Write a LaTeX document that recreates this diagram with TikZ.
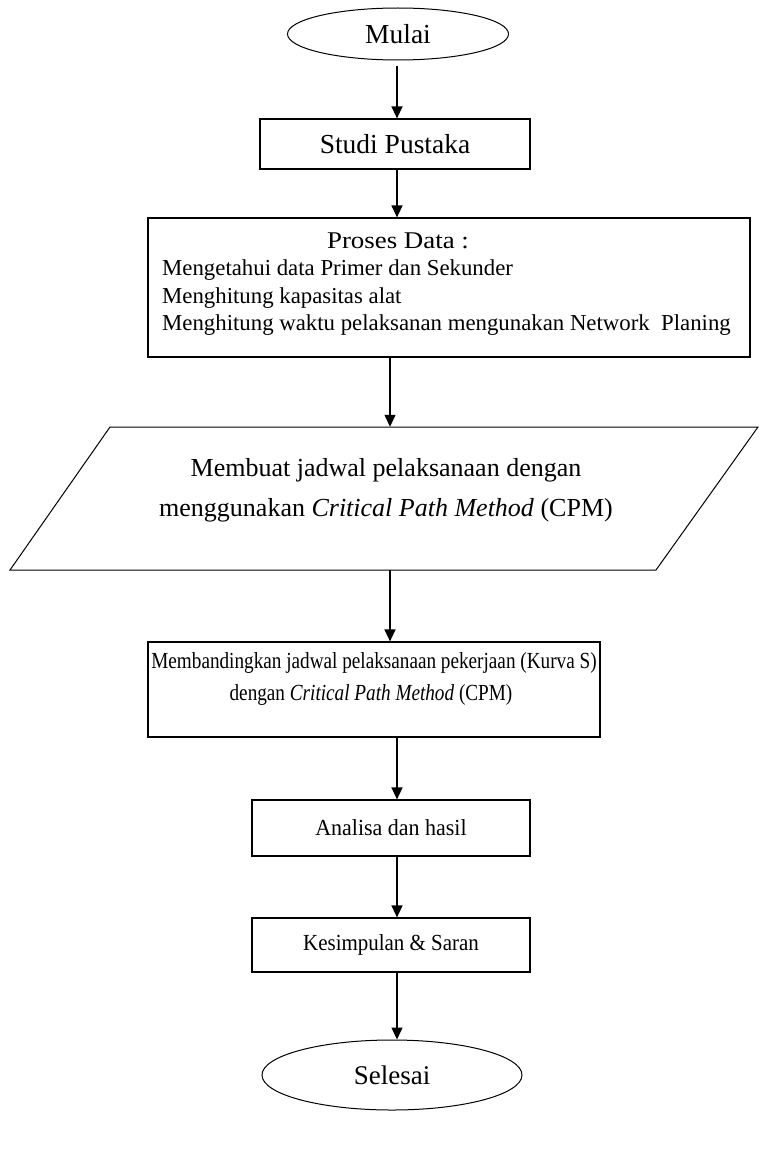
\documentclass[tikz,border=0pt]{standalone}
\usepackage{graphicx}
\usepackage{fontspec}
\setmainfont{Liberation Serif}
\usetikzlibrary{arrows.meta,shapes.geometric}
\newcommand{\fs}[1]{\fontsize{#1}{#1}\selectfont}
\newcommand{\sx}[2]{\scalebox{#1}[1]{#2}}
\begin{document}
\begin{tikzpicture}[x=1pt,y=-1pt,
  every node/.style={font=\fs{23}},
  box/.style={draw,line width=1.2pt,rectangle,inner sep=0pt},
  term/.style={draw,line width=1pt,ellipse,inner sep=0pt},
  hole/.style={draw=none,rectangle,inner sep=0pt},
  flow/.style={-{Triangle[width=11pt,length=12pt]},line width=1.3pt}]
\useasboundingbox (0,0) rectangle (763,1169);
\coordinate (xa) at (397,0);
\coordinate (xb) at (390,0);
% terminals and boxes
\node[term,minimum width=221,minimum height=52,font=\fs{27.5}] (mulai) at (398,34) {Mulai};
\node[box,minimum width=270,minimum height=50,font=\fs{27.5}] (studi) at (395,144) {Studi Pustaka};
\node[box,minimum width=602,minimum height=139] (proses) at (449,287.5) {};
\node[font=\fs{24}] (prosesT) at (398,241) {\sx{1.12}{Proses Data :}};
\node[anchor=west,inner sep=0pt,font=\fs{22.8}] (p1) at (162,270) {Mengetahui data Primer dan Sekunder};
\node[anchor=west,inner sep=0pt,font=\fs{22.8}] (p2) at (162,298) {Menghitung kapasitas alat};
\node[anchor=west,inner sep=0pt,font=\fs{22.8}] (p3) at (162,325) {Menghitung waktu pelaksanan mengunakan Network\ \ Planing};
% parallelogram
\node[hole,minimum width=648,minimum height=143] (para) at (384,498.5) {};
\draw[line width=1pt] (110,427) -- (758,427) -- (656,570) -- (10,570) -- cycle;
\node[font=\fs{26}] (m1) at (386,470) {Membuat jadwal pelaksanaan dengan};
\node[font=\fs{26}] (m2) at (386,510) {menggunakan \textit{Critical Path Method} (CPM)};
% compare box
\node[box,minimum width=452,minimum height=95] (memb) at (374,689.5) {};
\node[font=\fs{23}] (b1) at (374,663) {\sx{0.835}{Membandingkan jadwal pelaksanaan pekerjaan (Kurva S)}};
\node[font=\fs{23}] (b2) at (371,695) {\sx{0.835}{dengan \textit{Critical Path Method} (CPM)}};
\node[box,minimum width=278,minimum height=56,font=\fs{23}] (analisa) at (391,828) {\sx{0.955}{Analisa dan hasil}};
\node[box,minimum width=278,minimum height=54,font=\fs{23}] (kes) at (391,945) {\sx{0.91}{Kesimpulan \& Saran}};
\node[term,minimum width=260,minimum height=70,font=\fs{27}] (selesai) at (392,1075) {Selesai};
% connectors
\draw[flow,shorten <=6pt] (mulai.south -| xa) -- (studi.north -| xa);
\draw[flow] (studi.south -| xa) -- (proses.north -| xa);
\draw[flow] (proses.south -| xb) -- (para.north -| xb);
\draw[flow] (para.south -| xb) -- (memb.north -| xb);
\draw[flow] (memb.south -| xa) -- (analisa.north -| xa);
\draw[flow] (analisa.south -| xa) -- (kes.north -| xa);
\draw[flow] (kes.south -| xa) -- (selesai.north -| xa);
\end{tikzpicture}
\end{document}
